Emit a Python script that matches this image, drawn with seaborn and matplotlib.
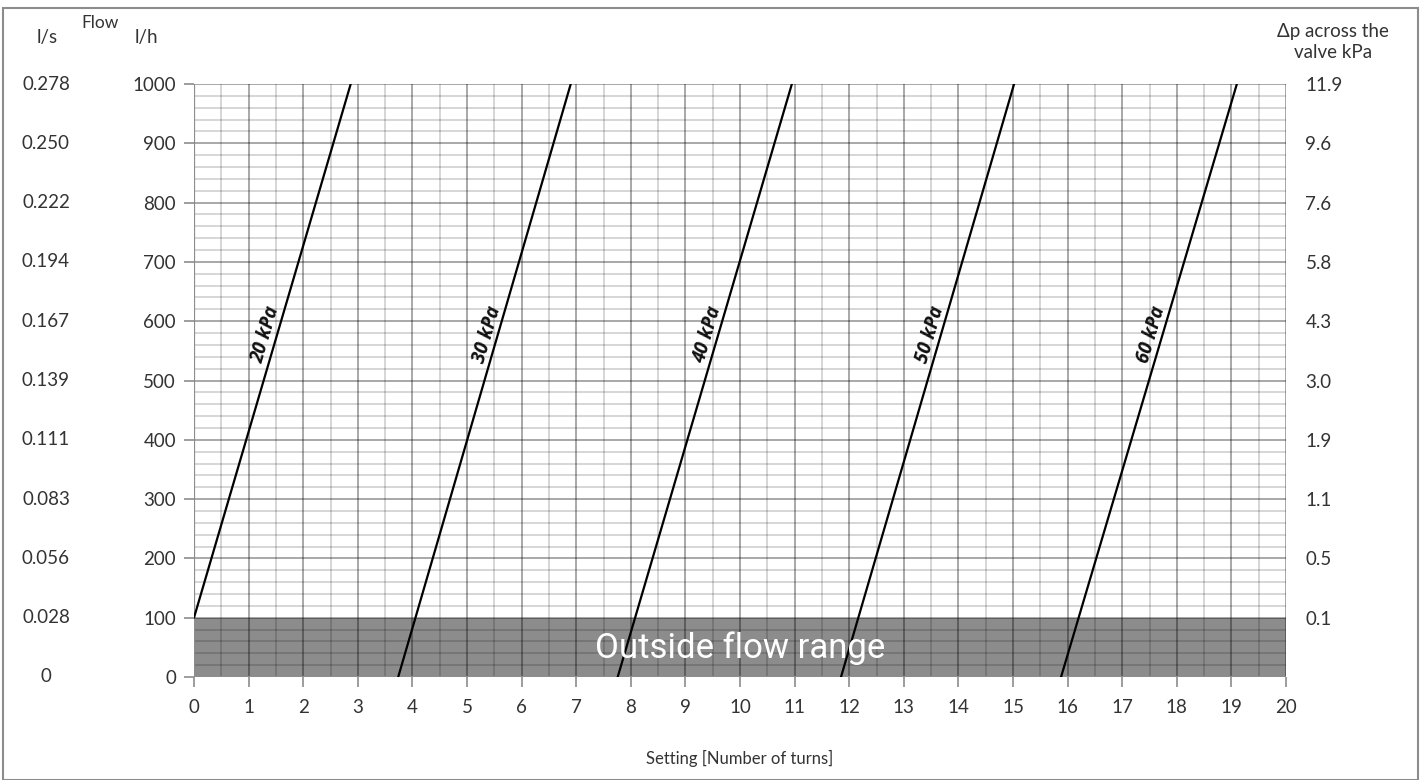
import matplotlib.pyplot as plt
import matplotlib.transforms as mtransforms
import seaborn as sns
import pandas as pd
import numpy as np

# pressure curves: setting (turns) at start/end of each straight line
dp_labels = ["20 kPa", "30 kPa", "40 kPa", "50 kPa", "60 kPa"]
turns_start = [0.0, 3.74, 7.76, 11.85, 15.88]
flow_start = [100, 0, 0, 0, 0]
turns_end = [2.87, 6.90, 10.95, 15.02, 19.10]
flow_end = [1000, 1000, 1000, 1000, 1000]

flow_ticks = [0, 100, 200, 300, 400, 500, 600, 700, 800, 900, 1000]
ls_labels = ["0", "0.028", "0.056", "0.083", "0.111", "0.139", "0.167",
             "0.194", "0.222", "0.250", "0.278"]
dp_tick_flows = [100, 200, 300, 400, 500, 600, 700, 800, 900, 1000]
dp_tick_labels = ["0.1", "0.5", "1.1", "1.9", "3.0", "4.3", "5.8", "7.6", "9.6", "11.9"]
setting_ticks = list(range(0, 21))
min_flow = 100

rows = []
for lab, x0, y0, x1, y1 in zip(dp_labels, turns_start, flow_start, turns_end, flow_end):
    rows.append({"dp": lab, "setting": x0, "flow": y0})
    rows.append({"dp": lab, "setting": x1, "flow": y1})
df = pd.DataFrame(rows)

sns.set_theme(style="white")
plt.rcParams["font.family"] = ["Lato", "DejaVu Sans"]
txt = "#333333"
fs = 13.5

fig = plt.figure(figsize=(14.27, 7.80), dpi=100)
ax = fig.add_axes([194 / 1427, 103 / 780, 1092 / 1427, 593 / 780])

# shaded band below minimum flow
ax.axhspan(0, min_flow, color="#8c8c8c", zorder=0, lw=0)

# grid: semi-transparent black so lines get darker over the gray band
for v in np.arange(0.5, 20, 1.0):
    ax.axvline(v, color="black", alpha=0.19, lw=1.2, zorder=1)
for v in range(1, 21):
    ax.axvline(v, color="black", alpha=0.4, lw=1.2, zorder=1)
for h in range(20, 1000, 20):
    if h % 100:
        ax.axhline(h, color="black", alpha=0.19, lw=1.2, zorder=1)
for h in range(100, 1001, 100):
    ax.axhline(h, color="black", alpha=0.4, lw=1.2, zorder=1)

sns.lineplot(data=df, x="setting", y="flow", units="dp", estimator=None,
             color="black", lw=1.6, ax=ax, legend=False, zorder=3)

# rotated curve labels to the left of each line
for lab, x0, y0, x1, y1 in zip(dp_labels, turns_start, flow_start, turns_end, flow_end):
    yl = 577
    xl = x0 + (yl - y0) * (x1 - x0) / (y1 - y0) - 0.2
    p0 = ax.transData.transform((x0, y0))
    p1 = ax.transData.transform((x1, y1))
    ang = np.degrees(np.arctan2(p1[1] - p0[1], p1[0] - p0[0]))
    ax.text(xl, yl, lab, rotation=ang, ha="center", va="center",
            fontsize=13.5, fontweight="bold", fontstyle="italic", color="#111111",
            zorder=4, family=["Open Sans", "DejaVu Sans"])

ax.text(10, 48, "Outside flow range", ha="center", va="center", color="white",
        fontsize=25, zorder=4, family=["Roboto", "DejaVu Sans"])

ax.set_xlim(0, 20)
ax.set_ylim(0, 1000)
ax.set_xticks(setting_ticks)
ax.set_yticks(flow_ticks)
ax.tick_params(axis="both", which="major", direction="out", length=7, width=1.2,
               color="#8c8c8c", labelsize=fs, labelcolor=txt, pad=9, left=True, bottom=True)
ax.tick_params(axis="y", pad=6)
for s in ax.spines.values():
    s.set_visible(False)
ax.axvline(0, color="#8c8c8c", lw=1.6, zorder=2)
ax.axhline(0, color="#8c8c8c", lw=1.6, zorder=2)
ax.set_xlabel("Setting [Number of turns]", fontsize=12, color=txt, labelpad=24)
ax.set_ylabel("")

# right-hand pressure scale
ax2 = ax.twinx()
ax2.set_ylim(0, 1000)
ax2.set_yticks(dp_tick_flows)
ax2.set_yticklabels(dp_tick_labels)
ax2.tick_params(axis="y", length=0, pad=14, labelsize=fs, labelcolor=txt)
for s in ax2.spines.values():
    s.set_visible(False)

# left l/s scale
tr = mtransforms.blended_transform_factory(fig.transFigure, ax.transData)
for f, lab in zip(flow_ticks, ls_labels):
    ax.text(46 / 1427, f, lab, transform=tr, ha="center", va="center",
            fontsize=fs, color=txt)

fig.text(47 / 1427, 1 - 38 / 780, "l/s", ha="center", va="center", fontsize=fs, color=txt)
fig.text(100 / 1427, 1 - 23 / 780, "Flow", ha="center", va="center", fontsize=12.5, color=txt)
fig.text(135 / 1427, 1 - 38 / 780, "l/h", ha="left", va="center", fontsize=fs, color=txt)
fig.text(1333 / 1427, 1 - 42 / 780, "\u0394p across the\nvalve kPa", ha="center", va="center",
         fontsize=fs, color=txt, linespacing=1.35)

# outer frame
fig.patches.append(plt.Rectangle((3 / 1427, 0.0), 1415 / 1427, 1 - 8 / 780,
                                 transform=fig.transFigure, fill=False,
                                 edgecolor="#8c8c8c", lw=1.5))

fig.savefig("out.png", dpi=100, facecolor="white")
